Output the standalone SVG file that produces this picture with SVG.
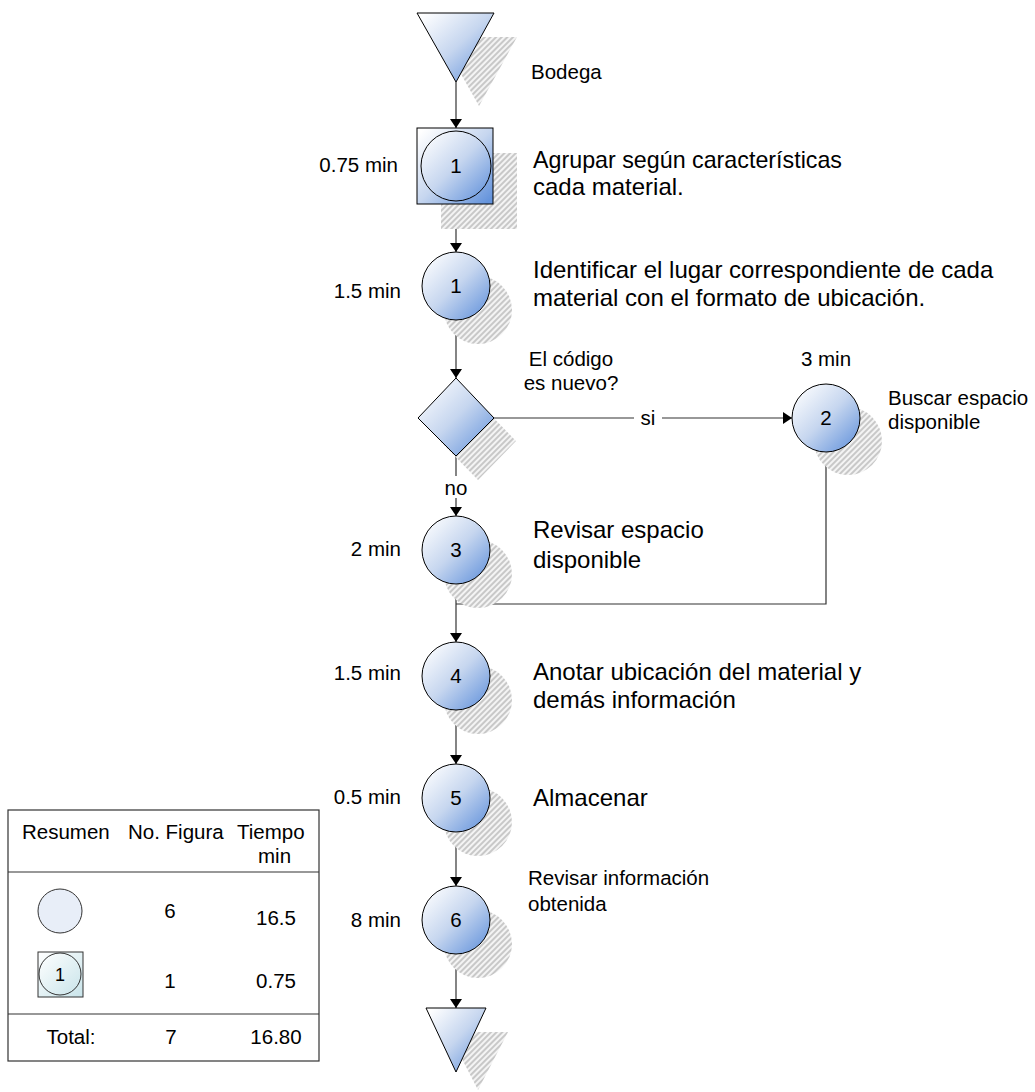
<svg xmlns="http://www.w3.org/2000/svg" width="1035" height="1092" viewBox="0 0 1035 1092">
<style>
  text { font-family: "Liberation Sans", Arial, sans-serif; fill: #000; }
  .big { font-size: 24px; }
  .med { font-size: 20.5px; }
  .num { font-size: 20.5px; text-anchor: middle; }
  .time { font-size: 20.5px; text-anchor: end; }
  .shape { fill: url(#grad); stroke: #000; stroke-width: 1; }
  .shadow { fill: url(#hatch); stroke: none; }
  .conn { stroke: #333; stroke-width: 1.2; fill: none; }
  .tbl { stroke: #333; stroke-width: 1.2; fill: none; }
  .bg { fill: #fff; stroke: none; }
</style>
<defs>
  <linearGradient id="grad" x1="0.05" y1="0.05" x2="0.95" y2="0.95">
    <stop offset="0" stop-color="#ffffff"/>
    <stop offset="0.5" stop-color="#c6d6ef"/>
    <stop offset="1" stop-color="#6594dc"/>
  </linearGradient>
  <linearGradient id="grad2" x1="0" y1="0" x2="1" y2="1">
    <stop offset="0" stop-color="#ffffff"/>
    <stop offset="1" stop-color="#c9e4ea"/>
  </linearGradient>
  <pattern id="hatch" width="4" height="4" patternUnits="userSpaceOnUse" patternTransform="rotate(45)">
    <rect width="4" height="4" fill="#f4f4f4"/>
    <rect width="2" height="4" fill="#c8c8c8"/>
  </pattern>
  <marker id="arr" viewBox="0 0 9 12" refX="9" refY="6" markerWidth="9" markerHeight="12" markerUnits="userSpaceOnUse" orient="auto">
    <path d="M0,0 L9,6 L0,12 z" fill="#000"/>
  </marker>
</defs>

<g id="connectors">
  <line class="conn" x1="456" y1="82" x2="456" y2="128" marker-end="url(#arr)"/>
  <line class="conn" x1="456" y1="204" x2="456" y2="252" marker-end="url(#arr)"/>
  <line class="conn" x1="456" y1="320" x2="456" y2="378" marker-end="url(#arr)"/>
  <line class="conn" x1="494" y1="418" x2="792" y2="418" marker-end="url(#arr)"/>
  <line class="conn" x1="456" y1="456" x2="456" y2="516" marker-end="url(#arr)"/>
  <line class="conn" x1="456" y1="584" x2="456" y2="642" marker-end="url(#arr)"/>
  <polyline class="conn" points="826,452 826,604 456,604"/>
  <line class="conn" x1="456" y1="710" x2="456" y2="764" marker-end="url(#arr)"/>
  <line class="conn" x1="456" y1="832" x2="456" y2="886" marker-end="url(#arr)"/>
  <line class="conn" x1="456" y1="954" x2="456" y2="1008" marker-end="url(#arr)"/>
  <rect class="bg" x="634" y="406" width="28" height="22"/>
  <text class="num" x="648" y="425">si</text>
  <rect class="bg" x="440" y="476" width="32" height="22"/>
  <text class="num" x="456" y="495">no</text>
</g>

<g id="start">
  <polygon class="shadow" points="440,37 517,37 479,106"/>
  <polygon class="shape" points="417,13 494,13 456,82"/>
  <text class="med" x="531" y="79">Bodega</text>
</g>

<g id="op-insp-1">
  <rect class="shadow" x="441" y="153" width="76" height="76"/>
  <rect class="shape" x="417" y="128" width="76" height="76"/>
  <circle class="shape" cx="456" cy="166" r="35"/>
  <text class="num" x="456" y="173">1</text>
  <text class="time" x="398" y="172">0.75 min</text>
  <text class="big" x="533" y="168" textLength="309" lengthAdjust="spacingAndGlyphs">Agrupar según características</text>
  <text class="big" x="533" y="195">cada material.</text>
</g>

<g id="op-1">
  <circle class="shadow" cx="478" cy="310" r="34"/>
  <circle class="shape" cx="456" cy="286" r="34"/>
  <text class="num" x="456" y="293">1</text>
  <text class="time" x="401" y="298">1.5 min</text>
  <text class="big" x="533" y="278">Identificar el lugar correspondiente de cada</text>
  <text class="big" x="533" y="306">material con el formato de ubicación.</text>
</g>

<g id="decision">
  <polygon class="shadow" points="478,402 516,441 478,480 440,441"/>
  <polygon class="shape" points="456,378 494,418 456,456 418,418"/>
  <text class="num" x="571" y="366">El código</text>
  <text class="num" x="571" y="390">es nuevo?</text>
</g>

<g id="op-2">
  <circle class="shadow" cx="848" cy="441" r="34"/>
  <circle class="shape" cx="826" cy="418" r="34"/>
  <text class="num" x="826" y="425">2</text>
  <text class="num" x="826" y="366">3 min</text>
  <text class="med" x="888" y="405">Buscar espacio</text>
  <text class="med" x="888" y="429">disponible</text>
</g>

<g id="op-3">
  <circle class="shadow" cx="478" cy="574" r="34"/>
  <circle class="shape" cx="456" cy="550" r="34"/>
  <text class="num" x="456" y="557">3</text>
  <text class="time" x="401" y="556">2 min</text>
  <text class="big" x="533" y="538">Revisar espacio</text>
  <text class="big" x="533" y="568">disponible</text>
</g>

<g id="op-4">
  <circle class="shadow" cx="478" cy="700" r="34"/>
  <circle class="shape" cx="456" cy="676" r="34"/>
  <text class="num" x="456" y="683">4</text>
  <text class="time" x="401" y="680">1.5 min</text>
  <text class="big" x="533" y="680">Anotar ubicación del material y</text>
  <text class="big" x="533" y="708">demás información</text>
</g>

<g id="op-5">
  <circle class="shadow" cx="478" cy="822" r="34"/>
  <circle class="shape" cx="456" cy="798" r="34"/>
  <text class="num" x="456" y="805">5</text>
  <text class="time" x="401" y="804">0.5 min</text>
  <text class="big" x="533" y="806">Almacenar</text>
</g>

<g id="op-6">
  <circle class="shadow" cx="478" cy="944" r="34"/>
  <circle class="shape" cx="456" cy="920" r="34"/>
  <text class="num" x="456" y="927">6</text>
  <text class="time" x="401" y="927">8 min</text>
  <text class="med" x="528" y="885">Revisar información</text>
  <text class="med" x="528" y="911">obtenida</text>
</g>

<g id="end">
  <polygon class="shadow" points="448,1032 508,1032 478,1090"/>
  <polygon class="shape" points="426,1008 486,1008 456,1072"/>
</g>

<g id="summary">
  <rect class="tbl" x="8" y="810" width="311" height="251"/>
  <line class="tbl" x1="8" y1="872" x2="319" y2="872"/>
  <line class="tbl" x1="8" y1="1014" x2="319" y2="1014"/>
  <text class="med" x="22" y="839">Resumen</text>
  <text class="med" x="128" y="839">No. Figura</text>
  <text class="med" x="237" y="839">Tiempo</text>
  <text class="med" x="258" y="863">min</text>
  <circle cx="60" cy="911" r="22" fill="#e8eef8" stroke="#333" stroke-width="1"/>
  <text class="num" x="170" y="918">6</text>
  <text class="num" x="276" y="925">16.5</text>
  <rect x="38" y="952" width="45" height="45" fill="url(#grad2)" stroke="#333" stroke-width="1"/>
  <circle cx="60" cy="974" r="21" fill="url(#grad2)" stroke="#333" stroke-width="1"/>
  <text class="num" x="60" y="981" style="font-size:18px">1</text>
  <text class="num" x="170" y="988">1</text>
  <text class="num" x="276" y="988">0.75</text>
  <text class="num" x="71" y="1044">Total:</text>
  <text class="num" x="171" y="1044">7</text>
  <text class="num" x="276" y="1044">16.80</text>
</g>
</svg>
